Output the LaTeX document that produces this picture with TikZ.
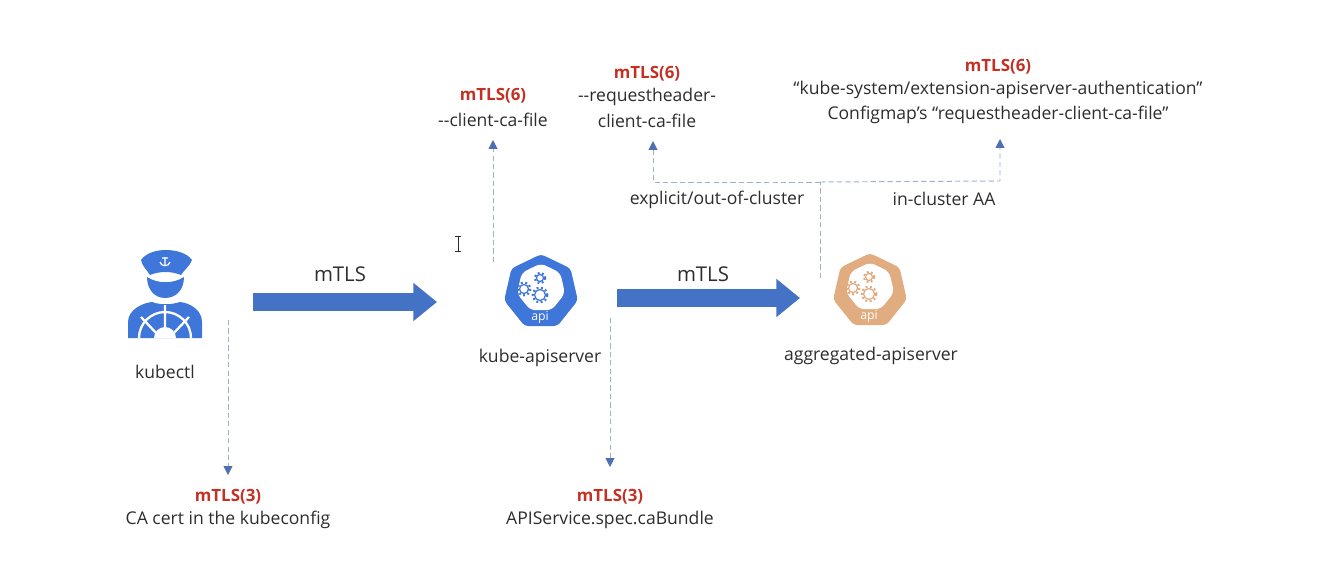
\documentclass[tikz,border=0pt]{standalone}
\usepackage{fontspec}
\setmainfont{Open Sans}
\usetikzlibrary{arrows.meta, shapes.geometric}

\definecolor{blockblue}{RGB}{68, 114, 196}
\definecolor{iconblue}{RGB}{62, 118, 218}
\definecolor{icontan}{RGB}{224, 172, 128}
\definecolor{dashblue}{RGB}{160, 176, 204}
\definecolor{tipblue}{RGB}{76, 112, 178}
\definecolor{mtlsred}{RGB}{196, 48, 36}
\definecolor{labelgray}{RGB}{45, 45, 45}

\tikzset{
    fatarrow/.style={draw=blockblue, line width=10.8pt, -{Triangle[length=13.5pt, width=21pt]}},
    dashline/.style={draw=dashblue, line width=0.55pt, dash pattern=on 3pt off 1.8pt},
    dasharrow/.style={dashline, -{Triangle[length=5pt, width=5pt, color=tipblue]}},
    mtlstitle/.style={font=\fontsize{9.6}{11}\selectfont\bfseries, text=mtlsred, inner sep=0pt},
    certlabel/.style={font=\fontsize{10}{12}\selectfont, text=labelgray, inner sep=0pt},
    arrowlabel/.style={font=\fontsize{11.6}{13}\selectfont, text=labelgray, inner sep=0pt},
    apiicon/.pic={
        \node[regular polygon, regular polygon sides=7, minimum size=43pt, inner sep=0pt, fill=#1, rounded corners=2pt] at (0,0) {};
        \node[regular polygon, regular polygon sides=7, minimum size=28pt, inner sep=0pt, fill=white, rounded corners=3pt] at (0,-4) {};
        \foreach \gx/\gy/\gr in {-1/3/5.5, -1/-14/3.5, -17/-3/4.5} {
            \draw[#1, line width=0.7pt] (\gx,\gy) circle (\gr);
            \draw[#1, line width=1.2pt, dash pattern=on 1.1pt off 1.4pt] (\gx,\gy) circle (\gr+1.8);
        }
        \node[font=\fontsize{7}{8}\selectfont, text=white, inner sep=0pt] at (-1,25) {api};
    }
}

\begin{document}
\begin{tikzpicture}[x=0.02cm, y=-0.02cm]
    \useasboundingbox (0,0) rectangle (1318,574);

    \fill[iconblue] (141,260) .. controls (146,253) and (156,250) .. (166,250) .. controls (176,250) and (187,253) .. (192,260) .. controls (190,266) and (184,270) .. (181,275) .. controls (171,271) and (160,271) .. (150,275) .. controls (147,270) and (142,266) .. (141,260) -- cycle;
    \fill[iconblue] (147,277) .. controls (158,284) and (173,284) .. (184,277) .. controls (184,290) and (176,298) .. (165,298) .. controls (155,298) and (147,290) .. (147,277) -- cycle;
    \fill[iconblue] (128,338) -- (128,322) .. controls (128,310) and (142,303) .. (152,302) .. controls (160,305) and (171,305) .. (180,302) .. controls (190,303) and (202,310) .. (202,322) -- (202,338) -- cycle;
    \draw[white, line width=1.3pt] (139,338) arc[start angle=180, end angle=360, radius=26];
    \draw[white, line width=1.3pt] (165,305) -- (165,328) (141,317) -- (158,335) (189,317) -- (172,335);
    \fill[white] (154,338) arc[start angle=180, end angle=360, radius=11] -- cycle;
    \draw[white, line width=0.7pt] (165,257) -- (165,266) (160,262) .. controls (161,267) and (169,267) .. (170,262) (162,258) -- (168,258);

    \pic at (541,292) {apiicon=iconblue};
    \pic at (870,291) {apiicon=icontan};

    \draw[labelgray, line width=0.5pt] (458,236) -- (458,251) (455,236) -- (461,236) (455,251) -- (461,251);

    \coordinate (kubectlright) at (253,302);
    \coordinate (apileft) at (437,302);
    \coordinate (apiright) at (617,298);
    \coordinate (aggleft) at (800,298);
    \draw[fatarrow] (kubectlright) -- (apileft);
    \draw[fatarrow] (apiright) -- (aggleft);
    \node[arrowlabel] (mtlsone) at (340,274) {mTLS};
    \node[arrowlabel] (mtlstwo) at (703,274) {mTLS};

    \node[certlabel] (kubectl) at (165,372) {kubectl};
    \node[certlabel] (kubeapi) at (540,358) {kube-apiserver};
    \node[certlabel] (aggapi) at (871,356) {aggregated-apiserver};

    \node[mtlstitle] (kubecfgtitle) at (228,497) {mTLS(3)};
    \node[certlabel] (kubecfg) at (228,520) {CA cert in the kubeconfig};
    \node[mtlstitle] (bundletitle) at (610,497) {mTLS(3)};
    \node[certlabel] (bundle) at (610,520) {APIService.spec.caBundle};
    \node[mtlstitle] (clienttitle) at (493,96) {mTLS(6)};
    \node[certlabel] (client) at (493,120) {-{}-client-ca-file};
    \node[mtlstitle] (headertitle) at (647,74) {mTLS(6)};
    \node[certlabel] (headerone) at (647,97) {-{}-requestheader-};
    \node[certlabel] (headertwo) at (647,121) {client-ca-file};
    \node[mtlstitle] (cmtitle) at (998,67) {mTLS(6)};
    \node[certlabel] (cmone) at (998,90) {“kube-system/extension-apiserver-authentication”};
    \node[certlabel] (cmtwo) at (998,115) {Configmap’s “requestheader-client-ca-file”};
    \node[certlabel] (explicit) at (717,200) {explicit/out-of-cluster};
    \node[certlabel] (incluster) at (944,199) {in-cluster AA};

    \coordinate (kubectlfoot) at (228,320);
    \coordinate (kubecfgtip) at (228,475);
    \coordinate (apifoot) at (610,318);
    \coordinate (bundletip) at (610,467);
    \coordinate (apitop) at (493,262);
    \coordinate (clienttip) at (493,140);
    \coordinate (aggtop) at (820,278);
    \coordinate (split) at (820,182);
    \coordinate (headertip) at (653,141);
    \coordinate (cmtip) at (1000,139);

    \draw[dasharrow] (kubectlfoot) -- (kubecfgtip);
    \draw[dasharrow] (apifoot) -- (bundletip);
    \draw[dasharrow] (apitop) -- (clienttip);
    \draw[dashline] (aggtop) -- (split);
    \draw[dasharrow] (split) -- (653,182) -- (headertip);
    \draw[dasharrow] (split) -- (1000,181) -- (cmtip);
\end{tikzpicture}
\end{document}
